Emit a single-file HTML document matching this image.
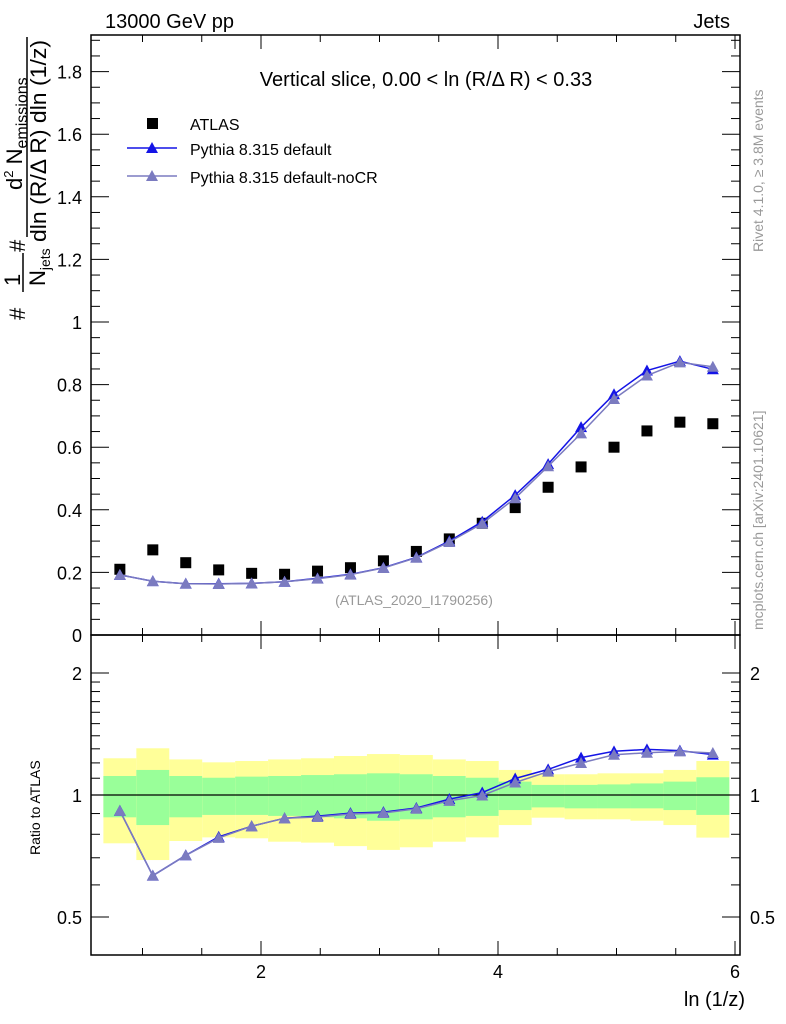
<!DOCTYPE html>
<html><head><meta charset="utf-8"><style>
body{margin:0;background:#fff;}
svg{display:block;font-family:"Liberation Sans",sans-serif;}
</style></head><body>
<svg id="chartsvg" width="786" height="1024" viewBox="0 0 786 1024" xmlns="http://www.w3.org/2000/svg">
<defs>
<clipPath id="rc"><rect x="91" y="635" width="649" height="320"/></clipPath>
<clipPath id="mc"><rect x="91" y="35" width="649" height="600"/></clipPath>
</defs>
<g id="gBands"></g>
<g id="gMarks"></g>
<g id="gAxes"></g>
<text x="105" y="28" font-size="20">13000 GeV pp</text>
<text x="730" y="28" font-size="20" text-anchor="end">Jets</text>
<text x="426" y="86" font-size="20" text-anchor="middle">Vertical slice, 0.00 &lt; ln (R/Δ R) &lt; 0.33</text>
<text x="414" y="605" font-size="14" fill="#999" text-anchor="middle">(ATLAS_2020_I1790256)</text>
<g font-size="16">
<rect x="147" y="118" width="11" height="11" fill="#000"/>
<text x="190" y="130">ATLAS</text>
<line x1="127" y1="148" x2="177" y2="148" stroke="#1414e6" stroke-width="1.5"/>
<polygon points="152,142 158,153 146,153" fill="#1414e6"/>
<text x="190" y="155">Pythia 8.315 default</text>
<line x1="127" y1="176" x2="177" y2="176" stroke="#7b7bc0" stroke-width="1.5"/>
<polygon points="152,170 158,181 146,181" fill="#7b7bc0"/>
<text x="190" y="183">Pythia 8.315 default-noCR</text>
</g>
<g font-size="22">
<text transform="translate(25,320) rotate(-90)">#</text>
<text transform="translate(20,286) rotate(-90)">1</text>
<line x1="23" y1="253" x2="23" y2="292" stroke="#000" stroke-width="1.5"/>
<text transform="translate(45,286) rotate(-90)">N<tspan font-size="14" dy="5">jets</tspan></text>
<text transform="translate(25,252) rotate(-90)">#</text>
<line x1="27" y1="37" x2="27" y2="237" stroke="#000" stroke-width="1.5"/>
<text transform="translate(22,190) rotate(-90)">d<tspan font-size="13" dy="-9">2</tspan><tspan dy="9"> N</tspan><tspan font-size="16" dy="5">emissions</tspan></text>
<text transform="translate(46,242) rotate(-90)" textLength="202" lengthAdjust="spacingAndGlyphs">dln (R/Δ R) dln (1/z)</text>
</g>
<text transform="translate(40,855) rotate(-90)" font-size="14">Ratio to ATLAS</text>
<text x="745" y="1006" font-size="20" text-anchor="end">ln (1/z)</text>
<text transform="translate(763,252) rotate(-90)" font-size="14" fill="#999">Rivet 4.1.0, ≥ 3.8M events</text>
<text transform="translate(763,630) rotate(-90)" font-size="14" fill="#999">mcplots.cern.ch [arXiv:2401.10621]</text>
</svg>
<script>
var binLow = [0.67,0.948,1.226,1.504,1.782,2.06,2.338,2.616,2.894,3.172,3.45,3.728,4.006,4.284,4.562,4.84,5.118,5.396,5.674];
var binHigh = [0.948,1.226,1.504,1.782,2.06,2.338,2.616,2.894,3.172,3.45,3.728,4.006,4.284,4.562,4.84,5.118,5.396,5.674,5.952];
var atlasVals = [0.210,0.272,0.231,0.208,0.197,0.194,0.204,0.215,0.237,0.267,0.307,0.357,0.407,0.472,0.537,0.600,0.652,0.680,0.675];
var pyDefault = [0.192,0.172,0.164,0.164,0.165,0.170,0.181,0.194,0.215,0.248,0.300,0.362,0.447,0.546,0.664,0.769,0.845,0.875,0.849];
var pyNoCR = [0.192,0.172,0.164,0.163,0.165,0.170,0.180,0.193,0.214,0.247,0.297,0.356,0.437,0.539,0.644,0.754,0.829,0.871,0.857];
var yellowHi = [1.232,1.304,1.224,1.204,1.213,1.224,1.232,1.248,1.262,1.255,1.224,1.213,1.153,1.125,1.125,1.131,1.131,1.153,1.213];
var yellowLo = [0.760,0.691,0.770,0.786,0.782,0.767,0.763,0.748,0.732,0.743,0.767,0.786,0.843,0.879,0.871,0.871,0.864,0.843,0.785];
var greenHi = [1.114,1.153,1.114,1.103,1.110,1.114,1.120,1.125,1.131,1.125,1.114,1.103,1.079,1.059,1.059,1.062,1.068,1.079,1.106];
var greenLo = [0.881,0.843,0.881,0.893,0.893,0.888,0.881,0.876,0.864,0.871,0.881,0.888,0.918,0.932,0.927,0.927,0.927,0.918,0.893];
var mainTicks = [0,0.2,0.4,0.6,0.8,1,1.2,1.4,1.6,1.8];
var mainTickLabels = ["0","0.2","0.4","0.6","0.8","1","1.2","1.4","1.6","1.8"];
var ratioTicks = [0.5,1,2];
var ratioTickLabels = ["0.5","1","2"];
var xTicks = [2,4,6];
var xTickLabels = ["2","4","6"];

var SVGNS = "http://www.w3.org/2000/svg";
var pL = 91, pR = 740, pT = 35, pMB = 635, pRB = 955;
function sx(v){ return 24 + 118.5 * v; }
function sy(v){ return 635 - 313 * v; }
function syr(v){ return 795 - 122 * Math.log(v) / Math.LN2; }
function mkEl(tag, attrs, parent){
  var e = document.createElementNS(SVGNS, tag);
  for (var k in attrs) { e.setAttribute(k, attrs[k]); }
  parent.appendChild(e);
  return e;
}
var gB = document.getElementById('gBands');
var gM = document.getElementById('gMarks');
var gA = document.getElementById('gAxes');

for (var i = 0; i < binLow.length; i++) {
  var w = sx(binHigh[i]) - sx(binLow[i]);
  var yb = mkEl('rect', {x: sx(binLow[i]), y: syr(yellowHi[i]), width: w, height: syr(yellowLo[i]) - syr(yellowHi[i]), fill: '#ffff99'}, gB);
  
  
  var gb = mkEl('rect', {x: sx(binLow[i]), y: syr(greenHi[i]), width: w, height: syr(greenLo[i]) - syr(greenHi[i]), fill: '#99ff99'}, gB);
  
  
}
mkEl('line', {x1: pL, x2: pR, y1: syr(1), y2: syr(1), stroke: '#000', 'stroke-width': 1.2}, gB);

var centers = [];
for (var i = 0; i < binLow.length; i++) { centers.push((binLow[i] + binHigh[i]) / 2); }

function drawSeries(vals, color, nm, yf, clip){
  var pts = [];
  for (var i = 0; i < vals.length; i++) { pts.push(sx(centers[i]).toFixed(1) + ',' + yf(vals[i]).toFixed(1)); }
  var pl = mkEl('polyline', {points: pts.join(' '), fill: 'none', stroke: color, 'stroke-width': 1.5, 'clip-path': clip}, gM);
  
  
  for (var i = 0; i < vals.length; i++) {
    var x = sx(centers[i]), y = yf(vals[i]);
    var t = mkEl('polygon', {points: x + ',' + (y - 6) + ' ' + (x + 6) + ',' + (y + 5) + ' ' + (x - 6) + ',' + (y + 5), fill: color}, gM);
    
    
  }
}
for (var i = 0; i < atlasVals.length; i++) {
  var s = mkEl('rect', {x: sx(centers[i]) - 5.5, y: sy(atlasVals[i]) - 5.5, width: 11, height: 11, fill: '#000'}, gM);
  
  
}
drawSeries(pyDefault, '#1414e6', 'default', sy, 'url(#mc)');
drawSeries(pyNoCR, '#7b7bc0', 'nocr', sy, 'url(#mc)');
var rDef = [], rNo = [];
for (var i = 0; i < atlasVals.length; i++) { rDef.push(pyDefault[i] / atlasVals[i]); rNo.push(pyNoCR[i] / atlasVals[i]); }
drawSeries(rDef, '#1414e6', 'ratio-default', syr, 'url(#rc)');
drawSeries(rNo, '#7b7bc0', 'ratio-nocr', syr, 'url(#rc)');

mkEl('rect', {x: pL, y: pT, width: pR - pL, height: pMB - pT, fill: 'none', stroke: '#000', 'stroke-width': 1.5}, gA);
mkEl('rect', {x: pL, y: pMB, width: pR - pL, height: pRB - pMB, fill: 'none', stroke: '#000', 'stroke-width': 1.5}, gA);

for (var k = 2; k <= 12; k++) {
  var v = k * 0.5, x = sx(v);
  if (x < pL || x > pR) continue;
  var len = (k % 4 === 0) ? 14 : 7;
  mkEl('line', {x1: x, x2: x, y1: pMB, y2: pMB - len, stroke: '#000', 'stroke-width': 1}, gA);
  mkEl('line', {x1: x, x2: x, y1: pRB, y2: pRB - len, stroke: '#000', 'stroke-width': 1}, gA);
  mkEl('line', {x1: x, x2: x, y1: pT, y2: pT + len, stroke: '#000', 'stroke-width': 1}, gA);
  mkEl('line', {x1: x, x2: x, y1: pMB, y2: pMB + len, stroke: '#000', 'stroke-width': 1}, gA);
}
for (var i = 0; i < xTicks.length; i++) {
  var t = mkEl('text', {x: sx(xTicks[i]), y: 978, 'font-size': 18, 'text-anchor': 'middle'}, gA);
  t.textContent = xTickLabels[i];
  
  
}
for (var k = 0; k <= 38; k++) {
  var y = sy(k * 0.05);
  if (y < pT) continue;
  var len = (k % 4 === 0) ? 18 : 9;
  mkEl('line', {x1: pL, x2: pL + len, y1: y, y2: y, stroke: '#000', 'stroke-width': 1}, gA);
  mkEl('line', {x1: pR, x2: pR - len, y1: y, y2: y, stroke: '#000', 'stroke-width': 1}, gA);
}
for (var i = 0; i < mainTicks.length; i++) {
  var t = mkEl('text', {x: 82, y: sy(mainTicks[i]) + 7, 'font-size': 18, 'text-anchor': 'end'}, gA);
  t.textContent = mainTickLabels[i];
  
  
}
var rMinor = [0.4,0.5,0.6,0.7,0.8,0.9,1,1.1,1.2,1.3,1.4,1.5,1.6,1.7,1.8,1.9,2,3];
for (var i = 0; i < rMinor.length; i++) {
  var v = rMinor[i], y = syr(v);
  if (y < pMB || y > pRB) continue;
  var len = (v === 0.5 || v === 1 || v === 2) ? 18 : 9;
  mkEl('line', {x1: pL, x2: pL + len, y1: y, y2: y, stroke: '#000', 'stroke-width': 1}, gA);
  mkEl('line', {x1: pR, x2: pR - len, y1: y, y2: y, stroke: '#000', 'stroke-width': 1}, gA);
}
for (var i = 0; i < ratioTicks.length; i++) {
  var t = mkEl('text', {x: 82, y: syr(ratioTicks[i]) + 7, 'font-size': 18, 'text-anchor': 'end'}, gA);
  t.textContent = ratioTickLabels[i];
  
  
  var t2 = mkEl('text', {x: 750, y: syr(ratioTicks[i]) + 7, 'font-size': 18}, gA);
  t2.textContent = ratioTickLabels[i];
  
  
}
</script>
</body></html>
